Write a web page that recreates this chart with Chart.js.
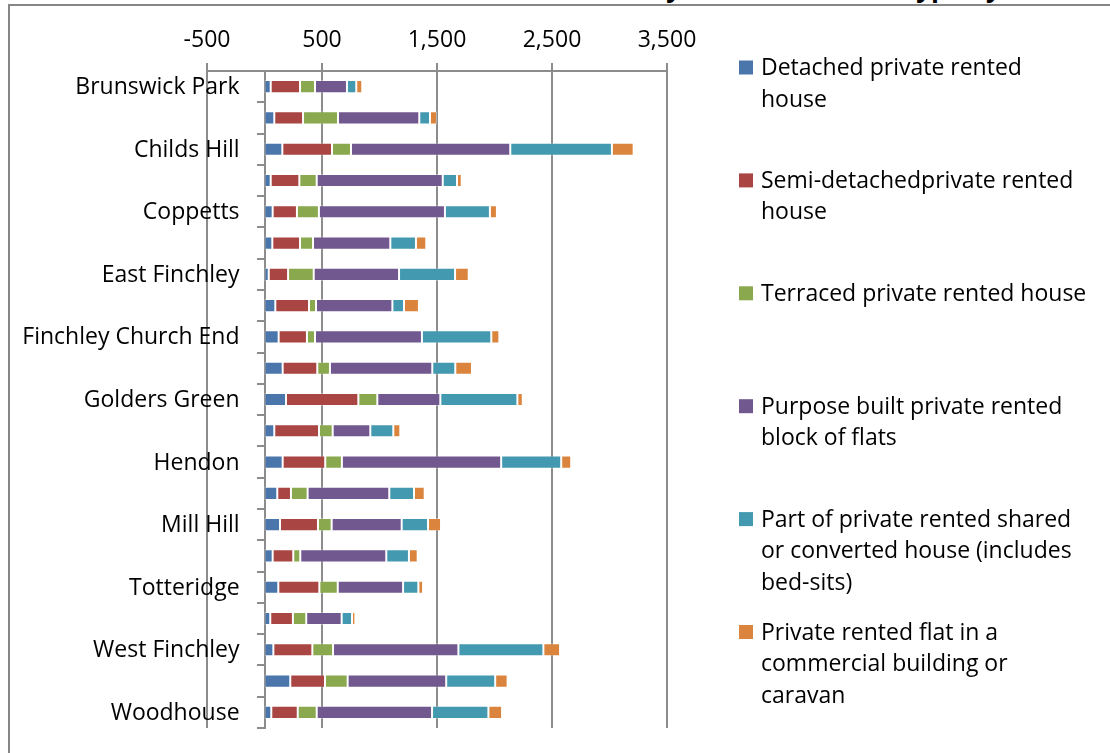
<!DOCTYPE html>
<html>
<head>
<meta charset="utf-8">
<script src="https://cdn.jsdelivr.net/npm/chart.js@4.4.1/dist/chart.umd.min.js"></script>
<style>
  body { margin: 0; background: #fff; overflow: hidden; }
  #wrap { position: relative; width: 1110px; height: 753px; overflow: hidden; }
  #frame { position: absolute; left: 8px; top: 4px; width: 1300px; height: 900px;
           border-left: 2px solid #868686; border-top: 2px solid #868686; }
  #title { position: absolute; top: -26px; left: 300px; white-space: nowrap;
           font: bold 26px/26px "Open Sans", sans-serif; color: #000; }
  canvas { position: absolute; left: 0; top: 0; }
</style>
</head>
<body>
<div id="wrap">
  <div id="frame"></div>
  <div id="title">Private rented households by accommodation type by ward</div>
  <canvas id="chart" width="1110" height="753"></canvas>
</div>
<script>
// wards, in the order shown (top to bottom)
const wards = ["Brunswick Park", "Burnt Oak", "Childs Hill", "Colindale", "Coppetts",
  "East Barnet", "East Finchley", "Edgware", "Finchley Church End", "Garden Suburb",
  "Golders Green", "Hale", "Hendon", "High Barnet", "Mill Hill", "Oakleigh",
  "Totteridge", "Underhill", "West Finchley", "West Hendon", "Woodhouse"];

// legend names, split where the original wraps them
const seriesLines = [
  ["Detached private rented", "house"],
  ["Semi-detachedprivate rented", "house"],
  ["Terraced private rented house"],
  ["Purpose built private rented", "block of flats"],
  ["Part of private rented shared", "or converted house (includes", "bed-sits)"],
  ["Private rented flat in a", "commercial building or", "caravan"]
];

const detached   = [54, 85, 155, 54, 71, 68, 37, 94, 123, 158, 187, 85, 158, 111, 135, 71, 120, 50, 77, 224, 59];
const semi       = [255, 250, 432, 249, 211, 241, 168, 293, 246, 301, 629, 389, 370, 119, 330, 179, 357, 197, 339, 302, 230];
const terraced   = [130, 304, 165, 151, 191, 113, 223, 61, 70, 110, 165, 119, 145, 145, 119, 61, 160, 116, 180, 197, 165];
const flats      = [278, 707, 1385, 1096, 1096, 672, 742, 664, 930, 890, 548, 327, 1385, 710, 609, 748, 568, 308, 1090, 857, 1003];
const shared     = [81, 93, 884, 124, 391, 223, 487, 101, 603, 200, 670, 200, 522, 215, 229, 197, 133, 90, 739, 426, 490];
const commercial = [52, 61, 189, 41, 61, 90, 119, 130, 70, 145, 47, 61, 87, 93, 113, 76, 41, 29, 145, 108, 119];

const colours = ["#4a76ab", "#a94542", "#8aa84e", "#71588f", "#4399b0", "#db843d"];
const xTicks = [-500, 500, 1500, 2500, 3500];

const FONT = "'Open Sans', sans-serif";
const FONT_SIZE = 23;
const gridGrey = "#8c8c8c";

// legend drawn on the right
const sideLegend = {
  id: "sideLegend",
  afterDraw(chart) {
    const ctx = chart.ctx;
    ctx.save();
    ctx.font = FONT_SIZE + "px " + FONT;
    ctx.textBaseline = "middle";
    chart.data.datasets.forEach((ds, i) => {
      const y = 67.5 + i * 112.9;
      ctx.fillStyle = ds.backgroundColor;
      ctx.fillRect(739, y - 7, 14, 14);
      ctx.fillStyle = "#000";
      seriesLines[i].forEach((l, k) => ctx.fillText(l, 761, y + 1 + k * 31.5));
    });
    ctx.restore();
  }
};

const data = [detached, semi, terraced, flats, shared, commercial];

new Chart(document.getElementById("chart"), {
  type: "bar",
  data: {
    labels: wards,
    datasets: data.map((d, i) => ({
      label: seriesLines[i].join(" "),
      data: d,
      backgroundColor: colours[i],
      borderColor: "rgba(255,255,255,0.35)",
      borderWidth: 1,
      borderSkipped: false,
      categoryPercentage: 1,
      barPercentage: 0.42
    }))
  },
  options: {
    indexAxis: "y",
    responsive: false,
    animation: false,
    layout: { padding: { left: 207, right: 443, top: 0, bottom: 25 } },
    plugins: {
      legend: { display: false },
      tooltip: { enabled: false }
    },
    scales: {
      x: {
        position: "top",
        stacked: true,
        min: -500,
        max: 3500,
        afterBuildTicks: s => { s.ticks = xTicks.map(v => ({ value: v })); },
        afterFit: s => { s.height = 71; },
        ticks: { font: { family: FONT, size: FONT_SIZE }, color: "#000", padding: 9 },
        grid: { color: gridGrey, lineWidth: 2, tickLength: 8 },
        border: { display: true, color: gridGrey, width: 2 }
      },
      y: { display: false, stacked: true },
      // category axis line at zero with its tick marks
      yAxisLine: {
        axis: "y",
        type: "category",
        position: { x: 0 },
        offset: true,
        ticks: { display: false },
        grid: { offset: true, drawOnChartArea: false, tickLength: 7, color: gridGrey, lineWidth: 2 },
        border: { display: true, color: gridGrey, width: 2 }
      },
      // ward names, every second one shown
      yLabels: {
        axis: "y",
        type: "category",
        position: { x: -217 },
        offset: true,
        grid: { display: false, drawTicks: false },
        border: { display: false },
        ticks: {
          autoSkip: false,
          color: "#000",
          labelOffset: 1,
          font: { family: FONT, size: FONT_SIZE },
          callback: (v, i) => (i % 2 === 0 ? wards[i] : "")
        }
      }
    }
  },
  plugins: [sideLegend]
});
</script>
</body>
</html>
